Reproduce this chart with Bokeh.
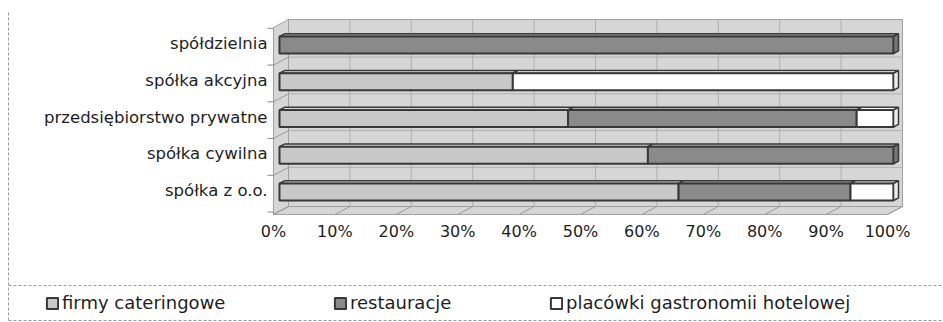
from bokeh.plotting import figure
from bokeh.models import Range1d, Legend, LegendItem, ColumnDataSource
from bokeh.embed import file_html
from bokeh.resources import INLINE
from bokeh.core.properties import value

# ---- data -------------------------------------------------------------
categories = ["spółka z o.o.", "spółka cywilna", "przedsiębiorstwo prywatne",
              "spółka akcyjna", "spółdzielnia"]
series = ["firmy cateringowe", "restauracje", "placówki gastronomii hotelowej"]
catering = [65, 60, 47, 38, 0]
restaurants = [28, 40, 47, 0, 100]
hotel = [7, 0, 6, 62, 0]
tick_values = [0, 10, 20, 30, 40, 50, 60, 70, 80, 90, 100]
tick_labels = ["0%", "10%", "20%", "30%", "40%", "50%", "60%", "70%", "80%", "90%", "100%"]

# ---- styling ------------------------------------------------------------
FONT = "DejaVu Sans"
TEXT = "#1e1e1e"
face_fill = ["#c8c8c8", "#8a8a8a", "#ffffff"]
top_fill = ["#dedede", "#ababab", "#ffffff"]
side_fill = ["#b2b2b2", "#767676", "#ececec"]
OUTLINE = "#383838"
WALL = "#d6d6d6"
WALL_EDGE = "#a0a0a0"
GRID = "#b0b0b0"

W, H = 943, 322
X0, SX = 279.0, 6.14      # pixel of 0 %, pixels per percent
Y0, SY = 190.0, 36.75     # pixel of the first category, pixels per category


def px_x(d):
    return d / SX


def px_y(d):
    # screen pixels downwards -> data units
    return -d / SY


def depth(d):
    # oblique 3-D depth vector (right and up)
    return d / SX, 0.53 * d / SY


p = figure(width=W, height=H, output_backend="svg", toolbar_location=None,
           x_range=Range1d(-X0 / SX, (W - X0) / SX),
           y_range=Range1d((Y0 - H) / SY, Y0 / SY),
           x_axis_type=None, y_axis_type=None, min_border=0,
           outline_line_color=None, background_fill_color="white",
           border_fill_color="white")
p.grid.visible = False

# ---- 3-D walls ------------------------------------------------------------
y_floor = px_y(210.8 - Y0)
y_top = px_y(23.8 - Y0)
fdx, fdy = depth(-6)    # front plane (axis)
bdx, bdy = depth(9)     # back wall plane

p.patch([fdx, bdx, bdx, fdx], [y_floor + fdy, y_floor + bdy, y_top + bdy, y_top + fdy],
        fill_color=WALL, line_color=WALL_EDGE, line_width=1)
p.patch([bdx, 100 + bdx, 100 + bdx, bdx],
        [y_floor + bdy, y_floor + bdy, y_top + bdy, y_top + bdy],
        fill_color=WALL, line_color=WALL_EDGE, line_width=1)
p.patch([fdx, bdx, 100 + bdx, 100 + fdx],
        [y_floor + fdy, y_floor + bdy, y_floor + bdy, y_floor + fdy],
        fill_color=WALL, line_color=WALL_EDGE, line_width=1)

# gridlines on back wall, floor and side wall
p.segment(x0=[v + bdx for v in tick_values[1:-1]], y0=y_floor + bdy,
          x1=[v + bdx for v in tick_values[1:-1]], y1=y_top + bdy,
          line_color=GRID, line_width=1)
p.segment(x0=[v + fdx for v in tick_values], y0=y_floor + fdy,
          x1=[v + bdx for v in tick_values], y1=y_floor + bdy,
          line_color="#9a9a9a", line_width=1)
bounds = [i + 0.5 for i in range(len(categories) - 1)]
p.segment(x0=bdx, y0=[b + bdy for b in bounds], x1=100 + bdx, y1=[b + bdy for b in bounds],
          line_color=GRID, line_width=1)
p.segment(x0=fdx, y0=[b + fdy for b in bounds], x1=bdx, y1=[b + bdy for b in bounds],
          line_color="#9a9a9a", line_width=1)
p.segment(x0=fdx + px_x(-6), y0=[b + fdy for b in bounds + [-0.5, len(categories) - 0.5]],
          x1=fdx, y1=[b + fdy for b in bounds + [-0.5, len(categories) - 0.5]],
          line_color="#8a8a8a", line_width=1)

# ---- stacked 3-D bars -------------------------------------------------------
bar_top = px_y(-7)      # front face above the category centre
bar_bot = px_y(10)      # front face below the category centre
ddx, ddy = depth(5)     # bar depth

values = [catering, restaurants, hotel]
front_renderers = []
for k, vals in enumerate(values):
    lefts, rights, ys = [], [], []
    for i in range(len(categories)):
        start = sum(values[j][i] for j in range(k))
        if vals[i] > 0:
            lefts.append(start)
            rights.append(start + vals[i])
            ys.append(i)
    tops_x = [[l, r, r + ddx, l + ddx] for l, r in zip(lefts, rights)]
    tops_y = [[y + bar_top, y + bar_top, y + bar_top + ddy, y + bar_top + ddy] for y in ys]
    p.patches(tops_x, tops_y, fill_color=top_fill[k], line_color=OUTLINE, line_width=1.5)
    src = ColumnDataSource(dict(left=lefts, right=rights,
                                bottom=[y + bar_bot for y in ys], top=[y + bar_top for y in ys]))
    r = p.quad(left="left", right="right", bottom="bottom", top="top", source=src,
               fill_color=face_fill[k], line_color=OUTLINE, line_width=2)
    front_renderers.append(r)

# right-hand end faces of the bars
end_x, end_y, end_fill = [], [], []
for i in range(len(categories)):
    total = catering[i] + restaurants[i] + hotel[i]
    last = max(k for k in range(3) if values[k][i] > 0)
    end_x.append([total, total + ddx, total + ddx, total])
    end_y.append([i + bar_bot, i + bar_bot + ddy, i + bar_top + ddy, i + bar_top])
    end_fill.append(side_fill[last])
p.patches(end_x, end_y, fill_color=end_fill, line_color=OUTLINE, line_width=1.5)

# ---- axis texts ---------------------------------------------------------------
p.text(x=0, y=list(range(len(categories))), text=categories, x_offset=-12,
       text_align="right", text_baseline="middle", text_font=value(FONT),
       text_font_size="16.5px", text_color=TEXT)
p.text(x=[v + fdx for v in tick_values], y=y_floor + fdy, text=tick_labels, y_offset=17,
       text_align="center", text_baseline="middle", text_font=value(FONT),
       text_font_size="16px", text_color=TEXT)

# ---- chart / legend frame (dashed) -----------------------------------------------
def sx(px):
    return (px - X0) / SX


def sy(py):
    return (Y0 - py) / SY


p.segment(x0=[sx(8), sx(8), sx(8)], y0=[sy(285), sy(320), sy(12)],
          x1=[sx(943), sx(943), sx(8)], y1=[sy(285), sy(320), sy(322)],
          line_color="#9c9c9c", line_width=1, line_dash="3 2")

# ---- legend ------------------------------------------------------------------------
legend_x = [45, 333, 549]
for k in range(3):
    lg = Legend(items=[LegendItem(label=series[k], renderers=[front_renderers[k]])],
                location=(legend_x[k], 9), orientation="horizontal",
                border_line_color=None, background_fill_alpha=0,
                glyph_width=14, glyph_height=14, label_standoff=3,
                padding=0, margin=0, label_text_font=FONT,
                label_text_font_size="18px", label_text_color=TEXT)
    p.add_layout(lg, "center")

open("out.html", "w").write(file_html(p, INLINE))
